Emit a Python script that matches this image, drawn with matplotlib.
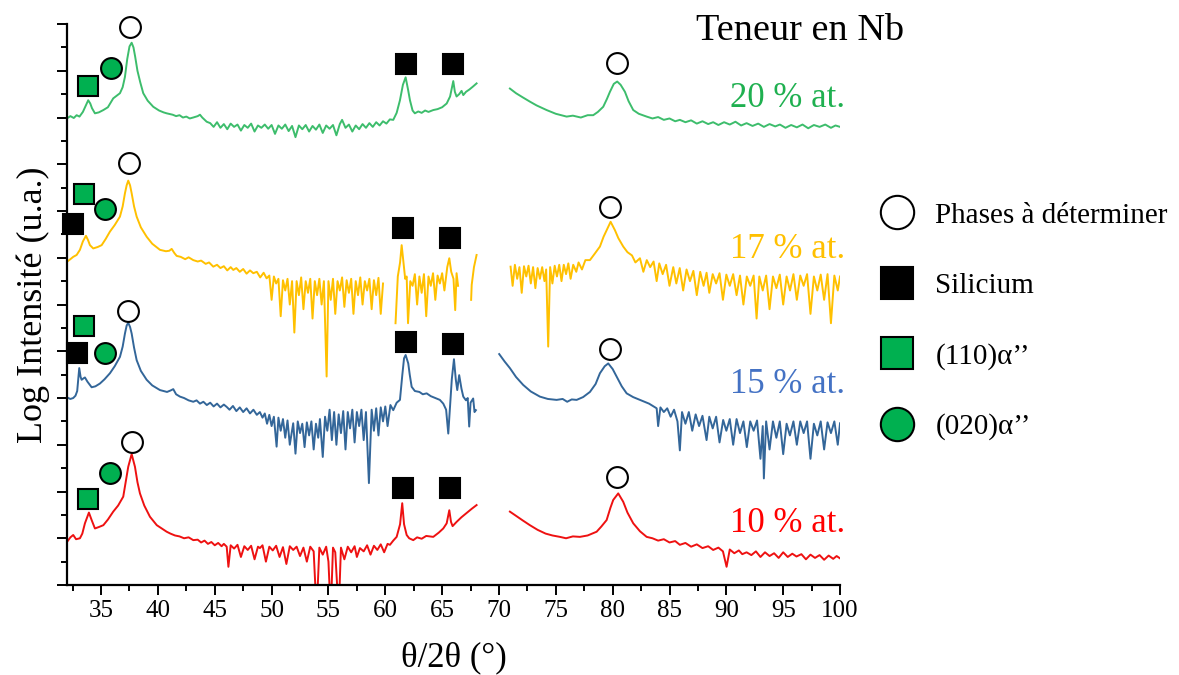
import numpy as np
import matplotlib.pyplot as plt
from matplotlib.lines import Line2D
from matplotlib.ticker import MultipleLocator

plt.rcParams['font.family'] = ['Liberation Serif', 'DejaVu Serif']

# offsets of each pattern on the log axis (one per sample)
offsets = {'10': 1, '15': 4, '17': 7, '20': 10}

# relative log intensity (2theta, value), two detector ranges
red_left = [(32.03, -0.07), (32.3, 0.02), (32.55, 0.07), (32.8, -0.02), (33.14, 0.0), (33.35, 0.1),
            (33.58, 0.32), (33.93, 0.55), (34.17, 0.39), (34.46, 0.21), (34.8, 0.24), (35.2, 0.28),
            (35.6, 0.4), (36.07, 0.57), (36.5, 0.7), (36.95, 0.89), (37.2, 1.25), (37.39, 1.53),
            (37.69, 1.80), (37.98, 1.53), (38.2, 1.2), (38.42, 0.96), (38.8, 0.7), (39.3, 0.46),
            (39.9, 0.28), (40.4, 0.2), (40.77, 0.14), (41.1, 0.1), (41.5, 0.06), (41.9, 0.04), (42.3, 0.0),
            (42.7, 0.02), (43.11, -0.04), (43.5, -0.03), (43.8, -0.09), (44.1, -0.05), (44.4, -0.12),
            (44.7, -0.08), (45.0, -0.15), (45.3, -0.1), (45.6, -0.17), (45.8, -0.12), (46.05, -0.18),
            (46.2, -0.61), (46.4, -0.15), (46.7, -0.22), (47.0, -0.14), (47.3, -0.4), (47.6, -0.17),
            (47.9, -0.25), (48.2, -0.16), (48.5, -0.45), (48.8, -0.18), (48.97, -0.21), (49.2, -0.15),
            (49.5, -0.5), (49.8, -0.18), (50.1, -0.26), (50.4, -0.16), (50.7, -0.4), (51.0, -0.19),
            (51.3, -0.55), (51.6, -0.17), (51.9, -0.25), (52.2, -0.18), (52.5, -0.38), (52.8, -0.2),
            (53.1, -0.5), (53.4, -0.18), (53.7, -0.28), (53.96, -1.6), (54.2, -0.2), (54.5, -0.35),
            (54.8, -0.18), (55.0, -0.5), (55.2, -1.6), (55.4, -0.2), (55.6, -0.3), (55.9, -1.6),
            (56.1, -0.2), (56.4, -0.45), (56.7, -0.18), (57.0, -0.3), (57.3, -0.17), (57.5, -0.4),
            (57.77, -0.21), (58.1, -0.28), (58.4, -0.15), (58.7, -0.35), (59.0, -0.16), (59.3, -0.25),
            (59.6, -0.13), (59.9, -0.3), (60.2, -0.12), (60.41, -0.14), (60.7, -0.05), (61.0, 0.03),
            (61.3, 0.3), (61.49, 0.75), (61.65, 0.3), (61.88, 0.07), (62.1, 0.0), (62.46, -0.04),
            (62.8, 0.02), (63.2, -0.01), (63.6, 0.05), (64.22, 0.03), (64.7, 0.12), (65.1, 0.21),
            (65.4, 0.32), (65.63, 0.60), (65.78, 0.35), (65.92, 0.26), (66.27, 0.35), (66.7, 0.45),
            (67.2, 0.55), (67.6, 0.63), (68.03, 0.71)]
red_right = [(70.96, 0.57), (71.5, 0.48), (72.1, 0.38), (72.72, 0.28), (73.4, 0.18), (74.1, 0.1),
             (74.7, 0.06), (75.36, 0.03), (75.9, 0.0), (76.5, 0.04), (77.12, 0.03), (77.8, 0.06),
             (78.59, 0.14), (79.0, 0.25), (79.47, 0.39), (79.8, 0.65), (80.05, 0.82), (80.49, 0.96),
             (80.93, 0.78), (81.3, 0.55), (81.81, 0.32), (82.4, 0.15), (82.99, 0.03), (83.5, 0.0),
             (84.0, -0.05), (84.5, -0.02), (85.0, -0.09), (85.5, -0.06), (85.91, -0.14), (86.4, -0.1),
             (86.9, -0.18), (87.4, -0.13), (87.9, -0.21), (88.4, -0.17), (88.84, -0.25), (89.3, -0.2),
             (89.7, -0.28), (90.02, -0.61), (90.3, -0.24), (90.7, -0.32), (91.1, -0.26), (91.4, -0.34),
             (91.78, -0.3), (92.2, -0.36), (92.6, -0.28), (93.0, -0.4), (93.4, -0.3), (93.8, -0.38),
             (94.2, -0.32), (94.6, -0.42), (95.0, -0.3), (95.4, -0.4), (95.8, -0.33), (96.17, -0.39),
             (96.6, -0.34), (97.0, -0.45), (97.4, -0.35), (97.8, -0.42), (98.2, -0.36), (98.6, -0.46),
             (99.0, -0.37), (99.4, -0.44), (99.7, -0.38), (100.0, -0.43)]

blue_left = [(32.03, 0.01), (32.3, -0.02), (32.55, 0.0), (32.75, 0.05), (32.9, 0.15), (33.08, 0.64),
             (33.2, 0.45), (33.29, 0.39), (33.45, 0.42), (33.58, 0.44), (33.8, 0.35), (34.17, 0.23),
             (34.5, 0.25), (34.9, 0.31), (35.3, 0.4), (35.78, 0.53), (36.2, 0.68), (36.66, 0.88),
             (36.9, 1.1), (37.1, 1.38), (37.25, 1.55), (37.39, 1.61), (37.55, 1.52), (37.69, 1.38),
             (37.9, 1.08), (38.13, 0.81), (38.5, 0.58), (39.01, 0.39), (39.5, 0.27), (40.18, 0.17),
             (40.8, 0.13), (41.1, 0.16), (41.35, 0.19), (41.6, 0.08), (41.94, 0.03), (42.3, 0.0),
             (42.7, -0.05), (43.11, -0.08), (43.4, -0.05), (43.7, -0.12), (44.0, -0.08), (44.3, -0.15),
             (44.6, -0.1), (44.9, -0.18), (45.2, -0.12), (45.5, -0.2), (45.8, -0.14), (46.05, -0.19),
             (46.3, -0.25), (46.6, -0.17), (46.9, -0.28), (47.2, -0.2), (47.5, -0.3), (47.8, -0.22),
             (48.1, -0.33), (48.4, -0.25), (48.7, -0.36), (48.97, -0.3), (49.2, -0.42), (49.4, -0.33),
             (49.6, -0.55), (49.8, -0.36), (50.0, -0.6), (50.2, -0.4), (50.44, -1.04), (50.6, -0.42),
             (50.8, -0.7), (51.0, -0.45), (51.2, -0.85), (51.4, -0.48), (51.6, -1.0), (51.9, -0.54),
             (52.1, -1.19), (52.3, -0.5), (52.5, -0.75), (52.7, -0.55), (52.9, -1.05), (53.1, -0.52),
             (53.3, -0.8), (53.5, -0.5), (53.7, -1.1), (53.9, -0.55), (54.1, -0.85), (54.25, -0.45),
             (54.5, -1.26), (54.7, -0.4), (54.9, -0.7), (55.1, -0.25), (55.3, -0.9), (55.5, -0.3),
             (55.7, -1.0), (55.9, -0.35), (56.1, -0.75), (56.3, -0.28), (56.5, -1.1), (56.7, -0.3),
             (56.9, -0.65), (57.1, -0.25), (57.3, -0.95), (57.5, -0.3), (57.7, -0.6), (57.9, -0.25),
             (58.1, -0.9), (58.3, -0.3), (58.56, -1.82), (58.8, -0.25), (59.0, -0.7), (59.2, -0.22),
             (59.4, -0.8), (59.6, -0.2), (59.8, -0.5), (60.0, -0.18), (60.2, -0.6), (60.45, -0.15),
             (60.7, -0.26), (61.0, -0.1), (61.29, -0.04), (61.5, 0.5), (61.65, 0.85), (61.79, 0.92),
             (62.02, 0.74), (62.15, 0.5), (62.32, 0.24), (62.6, 0.15), (63.0, 0.13), (63.3, 0.08),
             (63.64, 0.1), (64.0, 0.04), (64.4, 0.0), (64.8, -0.04), (65.1, -0.12), (65.35, -0.25),
             (65.54, -0.76), (65.69, -0.19), (65.85, 0.4), (66.04, 0.83), (66.2, 0.4), (66.33, 0.17),
             (66.5, 0.49), (66.7, 0.2), (66.86, 0.03), (67.1, -0.05), (67.25, 0.0), (67.38, -0.61),
             (67.5, -0.1), (67.73, -0.01), (67.85, -0.3), (67.97, -0.26)]
blue_right = [(70.02, 0.94), (70.5, 0.78), (70.96, 0.64), (71.5, 0.45), (72.13, 0.28), (72.8, 0.14),
              (73.6, 0.03), (74.3, -0.02), (75.07, -0.04), (75.6, -0.02), (76.0, -0.08), (76.4, -0.03),
              (76.83, -0.04), (77.4, 0.02), (78.0, 0.13), (78.5, 0.3), (78.88, 0.53), (79.3, 0.68),
              (79.61, 0.74), (80.0, 0.62), (80.35, 0.46), (80.8, 0.25), (81.23, 0.10), (81.8, 0.02),
              (82.4, -0.04), (82.8, -0.08), (83.2, -0.12), (83.6, -0.18), (83.87, -0.22), (84.0, -0.6),
              (84.2, -0.2), (84.5, -0.3), (84.8, -0.22), (85.1, -0.4), (85.4, -0.25), (85.7, -0.5),
              (85.91, -1.12), (86.1, -0.3), (86.4, -0.55), (86.7, -0.3), (87.0, -0.7), (87.3, -0.35),
              (87.6, -0.6), (87.9, -0.38), (88.26, -0.9), (88.5, -0.4), (88.8, -0.65), (89.1, -0.4),
              (89.4, -0.95), (89.72, -0.47), (90.0, -0.7), (90.3, -0.45), (90.6, -1.0), (90.9, -0.45),
              (91.2, -0.75), (91.5, -0.5), (91.8, -1.05), (92.1, -0.5), (92.4, -0.7), (92.7, -0.48),
              (93.0, -1.3), (93.2, -0.6), (93.3, -1.72), (93.5, -0.5), (93.8, -1.1), (94.1, -0.5),
              (94.4, -0.85), (94.7, -0.5), (95.0, -1.2), (95.3, -0.55), (95.59, -0.8), (95.9, -0.5),
              (96.2, -1.0), (96.5, -0.5), (96.8, -0.75), (97.1, -0.5), (97.4, -1.3), (97.7, -0.55),
              (98.0, -0.8), (98.3, -0.5), (98.6, -1.1), (98.9, -0.52), (99.2, -0.75), (99.5, -0.5),
              (99.8, -1.0), (100.0, -0.54)]

yellow_left = [(32.03, -0.08), (32.3, -0.03), (32.55, 0.02), (32.85, 0.06), (33.14, 0.17), (33.4, 0.35),
               (33.67, 0.47), (33.85, 0.38), (34.02, 0.27), (34.31, 0.20), (34.7, 0.23), (35.05, 0.27),
               (35.4, 0.4), (35.78, 0.56), (36.2, 0.7), (36.66, 0.88), (36.9, 1.1), (37.1, 1.38),
               (37.25, 1.55), (37.39, 1.65), (37.55, 1.55), (37.69, 1.38), (37.9, 1.1), (38.13, 0.88),
               (38.5, 0.65), (39.01, 0.45), (39.5, 0.3), (40.18, 0.17), (40.7, 0.14), (41.0, 0.15),
               (41.21, 0.19), (41.45, 0.1), (41.65, 0.04), (42.0, 0.02), (42.4, -0.03), (42.7, 0.01),
               (43.11, -0.05), (43.5, -0.08), (43.8, -0.06), (44.2, -0.13), (44.5, -0.1), (44.87, -0.19),
               (45.2, -0.15), (45.5, -0.22), (45.8, -0.18), (46.1, -0.27), (46.4, -0.2), (46.63, -0.26),
               (46.9, -0.22), (47.2, -0.3), (47.5, -0.24), (47.8, -0.34), (48.1, -0.27), (48.39, -0.33),
               (48.7, -0.3), (49.0, -0.42), (49.3, -0.32), (49.56, -0.44), (49.8, -0.38), (50.0, -0.9),
               (50.2, -0.4), (50.4, -0.55), (50.6, -0.45), (50.8, -1.25), (51.0, -0.48), (51.2, -0.7),
               (51.4, -0.45), (51.6, -1.0), (51.8, -0.5), (52.0, -1.6), (52.2, -0.5), (52.4, -0.8),
               (52.6, -0.42), (52.8, -1.1), (53.0, -0.5), (53.2, -0.75), (53.4, -0.45), (53.6, -1.3),
               (53.8, -0.5), (54.0, -0.8), (54.2, -0.45), (54.4, -1.0), (54.6, -0.5), (54.84, -2.54),
               (55.0, -0.5), (55.2, -0.9), (55.4, -0.45), (55.6, -1.2), (55.8, -0.5), (56.0, -0.7),
               (56.2, -0.42), (56.4, -1.05), (56.6, -0.48), (56.8, -0.75), (57.0, -0.45), (57.2, -1.2),
               (57.4, -0.5), (57.6, -0.8), (57.8, -0.42), (58.0, -1.0), (58.2, -0.5), (58.4, -0.7),
               (58.6, -0.45), (58.8, -1.1), (59.0, -0.48), (59.2, -0.8), (59.4, -0.43), (59.6, -1.2),
               (59.8, -0.55), (60.0, np.nan), (60.9, -1.4), (61.1, -0.4), (61.3, -0.1), (61.44, 0.27),
               (61.6, -0.1), (61.75, -0.45), (61.88, -0.4), (62.0, -1.4), (62.2, -0.5), (62.4, -0.6),
               (62.6, -0.35), (62.8, -1.0), (63.0, -0.4), (63.2, -0.75), (63.4, -0.35), (63.6, -1.25),
               (63.8, -0.4), (64.0, -0.6), (64.2, -0.33), (64.4, -0.9), (64.6, -0.38), (64.8, -0.55),
               (65.0, -0.33), (65.2, -0.7), (65.45, -0.2), (65.63, -0.01), (65.8, -0.3), (66.0, -0.45),
               (66.15, -1.12), (66.27, -0.33), (66.4, -0.6), (66.5, np.nan), (67.55, -0.9), (67.6, -0.58),
               (67.8, -0.2), (68.03, 0.06)]
yellow_right = [(71.02, -0.19), (71.2, -0.6), (71.4, -0.15), (71.6, -0.45), (71.8, -0.2), (72.0, -0.75),
                (72.2, -0.18), (72.4, -0.4), (72.6, -0.17), (72.8, -0.55), (73.0, -0.2), (73.2, -0.65),
                (73.4, -0.22), (73.6, -0.45), (73.8, -0.2), (74.0, -0.5), (74.15, -0.25), (74.33, -1.9),
                (74.5, -0.2), (74.7, -0.55), (74.9, -0.17), (75.1, -0.4), (75.3, -0.15), (75.5, -0.5),
                (75.7, -0.15), (75.9, -0.35), (76.1, -0.12), (76.3, -0.45), (76.53, -0.15), (76.8, -0.3),
                (77.0, -0.1), (77.3, -0.25), (77.6, -0.05), (78.0, -0.05), (78.4, 0.08), (78.88, 0.24),
                (79.2, 0.45), (79.47, 0.59), (79.82, 0.77), (80.2, 0.59), (80.5, 0.42), (80.93, 0.24),
                (81.3, 0.12), (81.7, 0.05), (82.0, -0.1), (82.4, -0.01), (82.7, -0.3), (83.0, -0.05),
                (83.3, -0.2), (83.6, -0.08), (83.87, -0.5), (84.1, -0.12), (84.4, -0.35), (84.7, -0.15),
                (85.0, -0.6), (85.33, -0.2), (85.6, -0.55), (85.9, -0.22), (86.2, -0.7), (86.5, -0.25),
                (86.8, -0.5), (87.1, -0.28), (87.4, -0.8), (87.7, -0.3), (88.0, -0.6), (88.26, -0.32),
                (88.5, -0.75), (88.8, -0.35), (89.1, -0.55), (89.4, -0.33), (89.7, -0.9), (90.0, -0.36),
                (90.3, -0.6), (90.6, -0.35), (90.9, -0.8), (91.2, -0.38), (91.5, -1.0), (91.8, -0.4),
                (92.1, -0.6), (92.4, -0.38), (92.66, -1.3), (92.9, -0.4), (93.2, -0.7), (93.5, -0.38),
                (93.8, -1.1), (94.1, -0.4), (94.4, -0.65), (94.7, -0.36), (95.0, -1.0), (95.3, -0.4),
                (95.6, -0.7), (95.9, -0.35), (96.2, -0.9), (96.5, -0.38), (96.8, -0.6), (97.1, -0.35),
                (97.4, -1.2), (97.7, -0.4), (98.0, -0.7), (98.3, -0.36), (98.6, -0.9), (98.9, -0.35),
                (99.2, -1.4), (99.5, -0.38), (99.8, -0.7), (100.0, -0.4)]

green_left = [(32.0, -0.02), (32.3, 0.03), (32.6, -0.01), (32.85, 0.05), (33.1, 0.02), (33.4, 0.12),
              (33.65, 0.25), (33.87, 0.37), (34.05, 0.3), (34.2, 0.2), (34.46, 0.09), (34.8, 0.11),
              (35.2, 0.16), (35.6, 0.22), (36.07, 0.41), (36.4, 0.47), (36.66, 0.52), (36.9, 0.65),
              (37.1, 0.87), (37.3, 1.25), (37.5, 1.52), (37.69, 1.60), (37.85, 1.50), (38.0, 1.30),
              (38.2, 1.0), (38.45, 0.75), (38.71, 0.52), (39.1, 0.36), (39.59, 0.23), (40.1, 0.15),
              (40.5, 0.11), (40.77, 0.09), (41.3, 0.06), (41.6, 0.03), (41.9, 0.05), (42.2, 0.0),
              (42.5, 0.02), (42.8, -0.02), (43.1, 0.0), (43.5, 0.03), (43.7, 0.06), (43.9, 0.0),
              (44.29, -0.09), (44.6, -0.12), (44.9, -0.2), (45.2, -0.1), (45.5, -0.22), (45.8, -0.14),
              (46.1, -0.25), (46.4, -0.13), (46.7, -0.2), (47.0, -0.15), (47.3, -0.28), (47.6, -0.16),
              (47.9, -0.22), (48.2, -0.13), (48.5, -0.3), (48.8, -0.17), (49.1, -0.22), (49.4, -0.15),
              (49.7, -0.24), (50.0, -0.16), (50.3, -0.35), (50.6, -0.17), (50.9, -0.24), (51.2, -0.15),
              (51.5, -0.29), (51.8, -0.18), (52.1, -0.42), (52.4, -0.17), (52.7, -0.25), (53.0, -0.16),
              (53.3, -0.3), (53.6, -0.18), (53.9, -0.26), (54.2, -0.15), (54.5, -0.33), (54.8, -0.17),
              (55.1, -0.24), (55.4, -0.16), (55.7, -0.38), (56.0, -0.14), (56.2, -0.05), (56.5, -0.22),
              (56.8, -0.15), (57.1, -0.3), (57.4, -0.17), (57.7, -0.25), (58.0, -0.14), (58.3, -0.22),
              (58.6, -0.12), (58.9, -0.2), (59.2, -0.1), (59.5, -0.17), (59.8, -0.08), (60.1, -0.13),
              (60.4, -0.04), (60.7, -0.05), (61.0, 0.1), (61.29, 0.37), (61.55, 0.7), (61.79, 0.86),
              (62.0, 0.6), (62.17, 0.37), (62.4, 0.15), (62.6, 0.09), (62.9, 0.13), (63.2, 0.1),
              (63.5, 0.15), (63.8, 0.12), (64.22, 0.16), (64.6, 0.18), (65.0, 0.22), (65.4, 0.30),
              (65.7, 0.45), (65.98, 0.78), (66.12, 0.55), (66.27, 0.45), (66.5, 0.5), (66.71, 0.57),
              (66.86, 0.48), (67.1, 0.55), (67.4, 0.6), (67.7, 0.66), (68.03, 0.73)]
green_right = [(70.96, 0.62), (71.5, 0.52), (72.1, 0.43), (72.72, 0.34), (73.3, 0.26), (74.19, 0.16),
               (75.0, 0.08), (75.95, 0.02), (76.5, 0.04), (77.2, 0.0), (77.8, 0.05), (78.29, 0.05),
               (78.7, 0.12), (79.17, 0.23), (79.5, 0.4), (79.76, 0.55), (80.1, 0.72), (80.4, 0.77),
               (80.7, 0.7), (81.08, 0.55), (81.4, 0.35), (81.81, 0.16), (82.3, 0.08), (82.99, 0.02),
               (83.5, -0.02), (84.0, 0.01), (84.5, -0.05), (85.0, -0.02), (85.5, -0.08), (85.91, -0.05),
               (86.4, -0.1), (86.9, -0.06), (87.4, -0.13), (87.9, -0.08), (88.4, -0.14), (88.84, -0.1),
               (89.3, -0.16), (89.8, -0.1), (90.3, -0.15), (90.8, -0.09), (91.3, -0.17), (91.78, -0.12),
               (92.3, -0.18), (92.8, -0.13), (93.3, -0.2), (93.8, -0.14), (94.3, -0.19), (94.71, -0.15),
               (95.2, -0.22), (95.7, -0.16), (96.2, -0.21), (96.7, -0.15), (97.2, -0.23), (97.7, -0.16),
               (98.2, -0.2), (98.7, -0.15), (99.2, -0.22), (99.6, -0.17), (100.0, -0.2)]

# peak markers: (2theta, level on the log axis)
phase_marks = [(37.54, 11.94), (80.35, 11.16), (37.45, 9.02), (79.76, 8.09),
               (37.39, 5.86), (79.76, 5.05), (37.75, 3.07), (80.35, 2.32)]
si_marks = [(61.81, 11.14), (65.98, 11.14), (32.55, 7.72), (61.52, 7.63), (65.69, 7.42),
            (32.9, 4.97), (61.81, 5.20), (65.98, 5.16), (61.52, 2.07), (65.69, 2.07)]
a110_marks = [(33.82, 10.68), (33.52, 8.36), (33.52, 5.53), (33.82, 1.85)]
a020_marks = [(35.84, 11.07), (35.37, 8.04), (35.37, 4.96), (35.78, 2.39)]

samples = [
    ('10', red_left, red_right, '#ee1111', '#ff0000', '10 % at.'),
    ('15', blue_left, blue_right, '#336699', '#4472c4', '15 % at.'),
    ('17', yellow_left, yellow_right, '#ffc000', '#ffc000', '17 % at.'),
    ('20', green_left, green_right, '#3dbd6c', '#1fb050', '20 % at.'),
]
label_baseline = {'10': 0.212, '15': 0.418, '17': 0.618, '20': 0.842}

fig = plt.figure(figsize=(11.79, 6.75), dpi=100)
ax = fig.add_axes([0.0568, 0.1333, 0.6557, 0.8311])

for key, left, right, col, tcol, lab in samples:
    pts = left + [(69.5, np.nan)] + right
    x = np.array([p[0] for p in pts])
    y = np.array([p[1] for p in pts]) + offsets[key]
    ax.plot(x, y, color=col, lw=1.4)
    fig.text(0.717, label_baseline[key], lab, color=tcol, fontsize=25, ha='right', va='baseline')

mk = dict(ls='none', mec='black', mew=1.5, ms=15, clip_on=False, zorder=5)
ax.plot([p[0] for p in phase_marks], [p[1] for p in phase_marks], marker='o', mfc='white', **mk)
ax.plot([p[0] for p in si_marks], [p[1] for p in si_marks], marker='s', mfc='black', **mk)
ax.plot([p[0] for p in a110_marks], [p[1] for p in a110_marks], marker='s', mfc='#00b050', **mk)
ax.plot([p[0] for p in a020_marks], [p[1] for p in a020_marks], marker='o', mfc='#00b050', **mk)

ax.set_xlim(32, 100)
ax.set_ylim(0, 12)
ax.xaxis.set_major_locator(MultipleLocator(5))
ax.xaxis.set_minor_locator(MultipleLocator(2.5))
ax.yaxis.set_major_locator(MultipleLocator(1))
ax.yaxis.set_minor_locator(MultipleLocator(0.5))
ax.set_yticklabels([])
ax.tick_params(which='major', length=7, width=1.4, labelsize=18, direction='out')
ax.tick_params(which='minor', length=4, width=1.4, direction='out')
for s in ['top', 'right']:
    ax.spines[s].set_visible(False)
for s in ['left', 'bottom']:
    ax.spines[s].set_linewidth(1.6)

ax.set_xlabel('θ/2θ (°)', fontsize=25, labelpad=14)
ax.set_ylabel('Log Intensité (u.a.)', fontsize=26, labelpad=2)

fig.text(0.679, 0.955, 'Teneur en Nb', fontsize=27.5, ha='center', va='center')

handles = [
    Line2D([], [], ls='none', marker='o', mfc='white', mec='black', mew=1.5, ms=24),
    Line2D([], [], ls='none', marker='s', mfc='black', mec='black', mew=1.5, ms=23),
    Line2D([], [], ls='none', marker='s', mfc='#00b050', mec='black', mew=1.5, ms=23),
    Line2D([], [], ls='none', marker='o', mfc='#00b050', mec='black', mew=1.5, ms=24),
]
labels = ['Phases à déterminer', 'Silicium', '(110)α’’', '(020)α’’']
fig.legend(handles, labels, loc='upper left', bbox_to_anchor=(0.734, 0.722), frameon=False,
           fontsize=21, labelspacing=1.5, handletextpad=0.7, handlelength=1.2, borderpad=0)

fig.savefig('out.png', dpi=100)
